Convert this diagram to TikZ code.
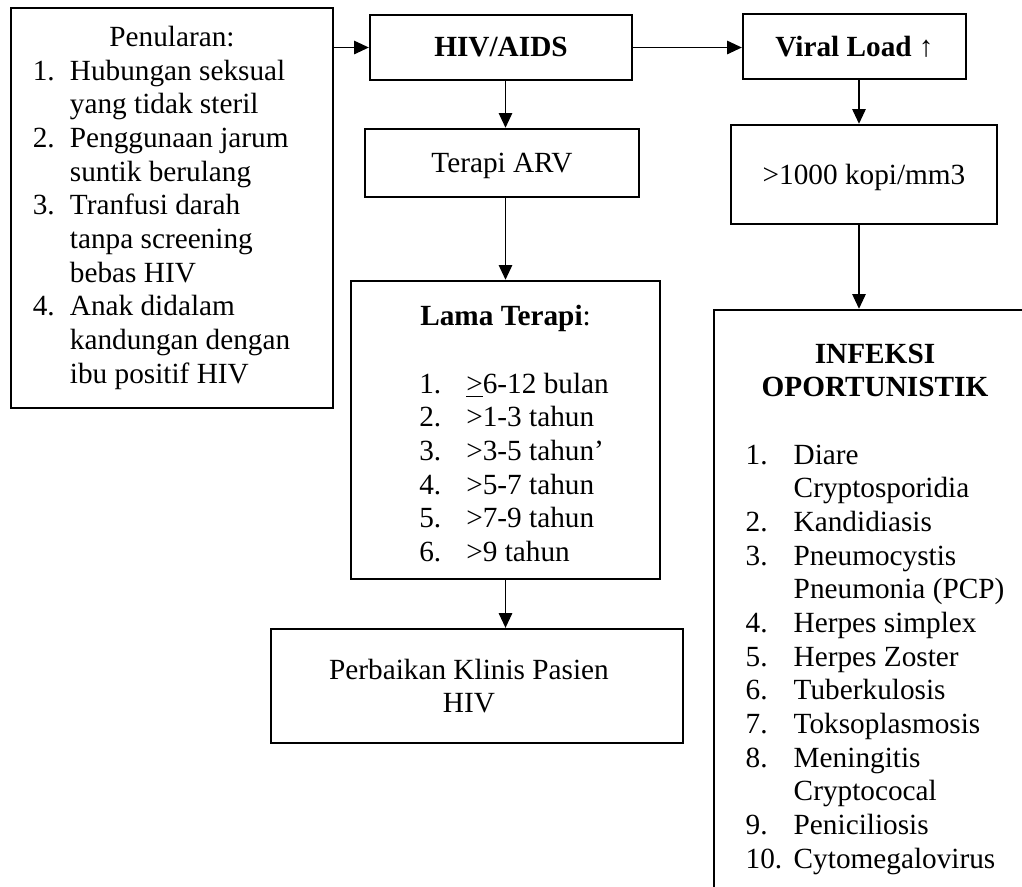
\documentclass[tikz,border=0pt]{standalone}
\usepackage{fontspec}
\setmainfont{Liberation Serif}
\usetikzlibrary{arrows.meta}
\begin{document}
\begin{tikzpicture}[x=0.41pt, y=-0.41pt, >={Triangle[length=6pt,width=5.5pt]},
    kotak/.style={draw, line width=1pt, inner sep=0pt, font=\fontsize{12pt}{13.8pt}\selectfont},
    panah/.style={->, line width=0.5pt}]
    \useasboundingbox (0,0) rectangle (1022,886);
    \clip (0,0) rectangle (1022,886);
    \node[kotak, minimum width=132pt, minimum height=164pt] (pen) at (172,208) {%
      \begin{tabular}{@{}p{15.2pt}@{}l@{\hspace{8.6pt}}}
        \multicolumn{2}{@{}c@{}}{Penularan:}\\
        1. & Hubungan seksual\\
           & yang tidak steril\\
        2. & Penggunaan jarum\\
           & suntik berulang\\
        3. & Tranfusi darah\\
           & tanpa screening\\
           & bebas HIV\\
        4. & Anak didalam\\
           & kandungan dengan\\
           & ibu positif HIV
      \end{tabular}};
    \node[kotak, minimum width=107.4pt, minimum height=26.65pt] (hiv) at (501,47.5) {\textbf{HIV/AIDS}};
    \node[kotak, minimum width=91.4pt, minimum height=26.65pt] (vl) at (854.5,46.5) {\textbf{Viral Load ↑}};
    \node[kotak, text depth=0pt, minimum width=112.3pt, minimum height=27.9pt] (arv) at (502,163) {Terapi ARV};
    \node[kotak, text depth=0pt, minimum width=109.1pt, minimum height=40.6pt] (kopi) at (864,174.5) {>1000 kopi/mm3};
    \node[kotak, minimum width=126.7pt, minimum height=122.2pt] (lama) at (505.5,430) {%
      \begin{tabular}{@{\hspace{7pt}}p{19.3pt}@{}l@{}}
        \multicolumn{2}{@{}c@{}}{\rule{0pt}{15.4pt}\textbf{Lama Terapi}:}\\
        \\
        1. & \underline{>}6-12 bulan\\
        2. & >1-3 tahun\\
        3. & >3-5 tahun’\\
        4. & >5-7 tahun\\
        5. & >7-9 tahun\\
        6. & >9 tahun
      \end{tabular}};
    \node[kotak, align=center, text depth=0pt, minimum width=168.9pt, minimum height=46.7pt] (perb) at (477,686) {Perbaikan Klinis Pasien\hspace*{6.6pt}\\HIV\hspace*{6.6pt}};
    \node[kotak, minimum width=132pt, minimum height=245.2pt] (inf) at (875,609) {%
      \begin{tabular}{@{}p{19.7pt}@{}l@{}}
        \multicolumn{2}{@{}c@{}}{\textbf{INFEKSI}}\\
        \multicolumn{2}{@{}c@{}}{\textbf{OPORTUNISTIK}}\\
        \\
        1. & Diare\\
           & Cryptosporidia\\
        2. & Kandidiasis\\
        3. & Pneumocystis\\
           & Pneumonia (PCP)\\
        4. & Herpes simplex\\
        5. & Herpes Zoster\\
        6. & Tuberkulosis\\
        7. & Toksoplasmosis\\
        8. & Meningitis\\
           & Cryptococal\\
        9. & Peniciliosis\\
        10. & Cytomegalovirus
      \end{tabular}};
    \coordinate (vline) at (859,0);
    \draw[panah] (pen.east |- hiv.west) -- (hiv.west);
    \draw[panah] (hiv.east) -- (hiv.east -| vl.west);
    \draw[panah] (hiv.south -| lama.north) -- (arv.north -| lama.north);
    \draw[panah] (arv.south -| lama.north) -- (lama.north);
    \draw[panah] (lama.south) -- (perb.north -| lama.south);
    \draw[panah] (vl.south -| vline) -- (kopi.north -| vline);
    \draw[panah] (kopi.south -| vline) -- (inf.north -| vline);
\end{tikzpicture}
\end{document}
